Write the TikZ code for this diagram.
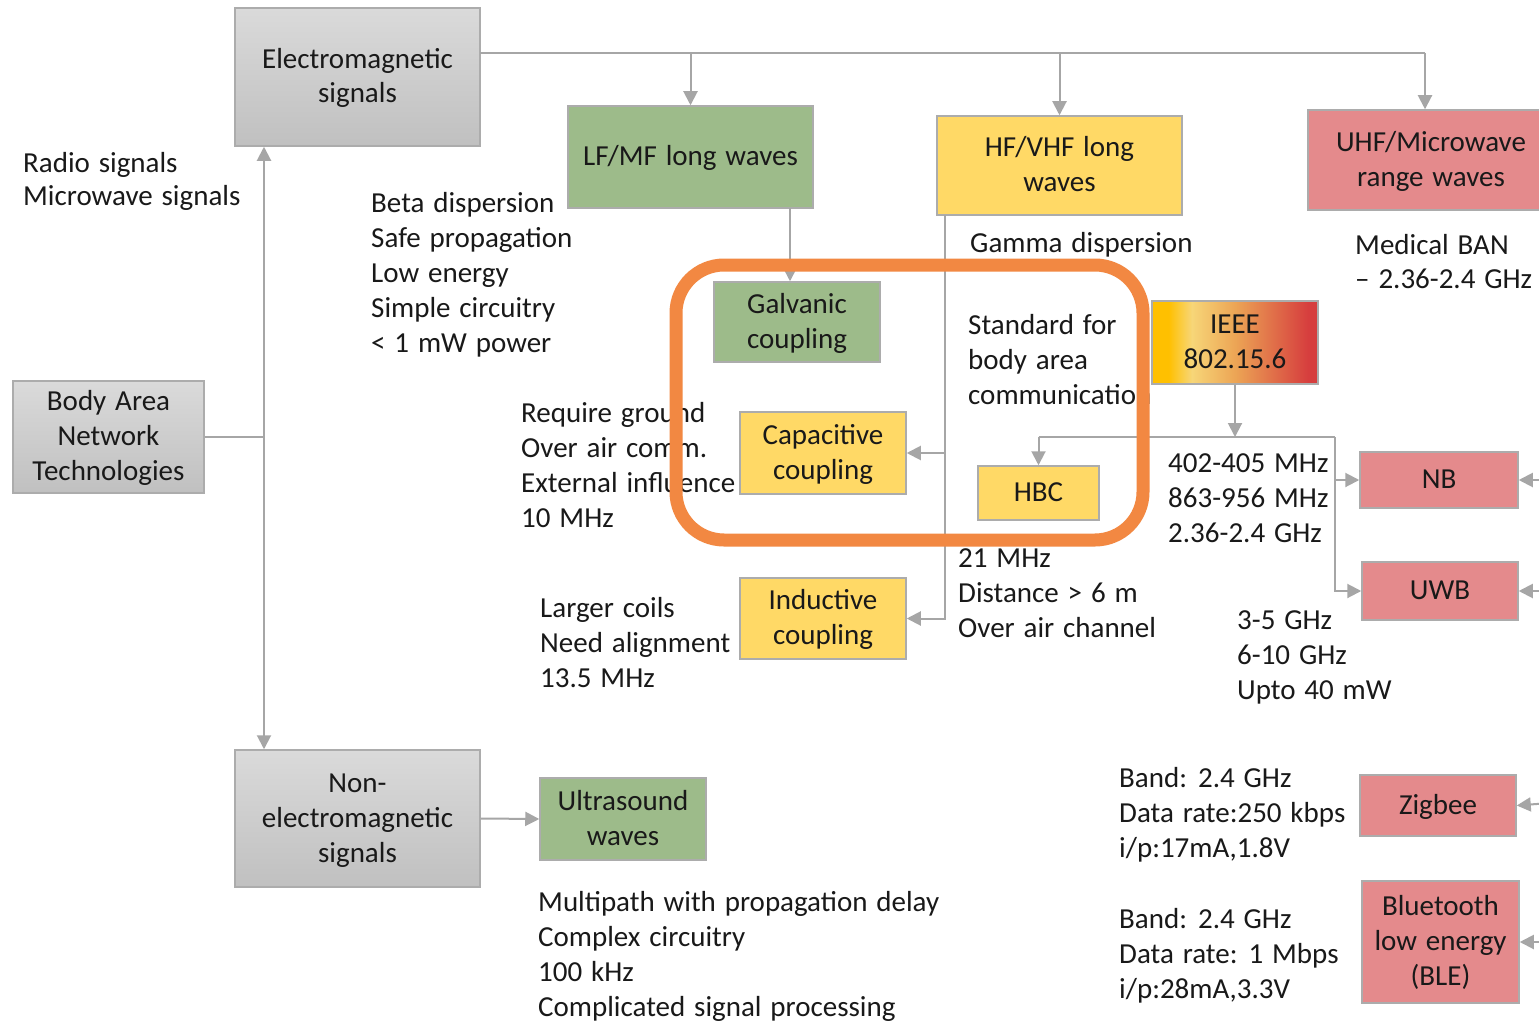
\documentclass[tikz,border=0pt]{standalone}
\usepackage{fontspec}
\setmainfont[WordSpace=1.35]{Carlito}
\usetikzlibrary{arrows.meta}

\definecolor{boxgrayT}{RGB}{218,218,218}
\definecolor{boxgrayB}{RGB}{192,192,192}
\definecolor{leaf}{RGB}{157,187,138}
\definecolor{sun}{RGB}{255,217,102}
\definecolor{rose}{RGB}{228,138,140}
\definecolor{wire}{RGB}{166,166,166}
\definecolor{frame}{RGB}{172,172,172}
\definecolor{ring}{RGB}{242,136,66}
\definecolor{ink}{RGB}{25,25,25}
\definecolor{ieeeA}{RGB}{255,192,0}
\definecolor{ieeeB}{RGB}{247,214,120}
\definecolor{ieeeC}{RGB}{236,165,85}
\definecolor{ieeeD}{RGB}{214,62,62}
\pgfdeclarehorizontalshading{ieeeshade}{100bp}{color(0bp)=(ieeeA); color(25bp)=(ieeeA); color(30bp)=(ieeeA); color(37bp)=(ieeeB); color(50bp)=(ieeeC); color(72bp)=(ieeeD); color(100bp)=(ieeeD)}

\newcommand\bodysize{\fontsize{29}{35}\selectfont}
% top and bottom struts for box labels: first line reaches 26.5pt up, last line 9.5pt down
\newcommand\bt{\rule{0pt}{26.5pt}}
\newcommand\bb{\rule[-9.5pt]{0pt}{9.5pt}}

\tikzset{
  dims/.style 2 args={minimum width=#1, minimum height=#2},
  blk/.style={draw=frame, line width=1.5pt, align=center, inner sep=0pt, font=\bodysize, text=ink},
  graybox/.style={blk, top color=boxgrayT, bottom color=boxgrayB},
  greenbox/.style={blk, fill=leaf},
  yellowbox/.style={blk, fill=sun},
  redbox/.style={blk, fill=rose},
  note/.style={anchor=north west, inner sep=0pt, align=left, font=\bodysize, text=ink},
  link/.style={draw=wire, line width=2pt},
  feed/.style={link, -{Triangle[length=14pt,width=14pt]}},
}

\begin{document}
\begin{tikzpicture}[x=1pt,y=-1pt]
\useasboundingbox (0,0) rectangle (1539,1022);
\clip (0,0) rectangle (1539,1022);
\fill[white] (0,0) rectangle (1539,1022);

% ---------- boxes ----------
\node[graybox, dims={245}{138}] (em) at (357.5,77) {\bt Electromagnetic\\signals\bb};
\node[graybox, dims={191}{112}] (bant) at (108.5,437) {\bt Body Area\\Network\\Technologies\bb};
\node[graybox, dims={245}{137}] (nonem) at (357.5,818.5) {\bt Non-\\electromagnetic\\signals\bb};

\node[greenbox, dims={245}{102}] (lf) at (690.5,157) {\bt LF/MF long waves\bb};
\node[yellowbox, dims={245}{99}] (hf) at (1059.5,165.5) {\bt HF/VHF long\\waves\bb};
\node[redbox, dims={246}{100}] (uhf) at (1431,160) {\bt UHF/Microwave\\range waves\bb};

\node[greenbox, dims={166}{80}] (gal) at (797,322) {\bt Galvanic\\coupling\bb};
\node[yellowbox, dims={166}{82}] (cap) at (823,453) {\bt Capacitive\\coupling\bb};
\node[yellowbox, dims={166}{81}] (ind) at (823,618.5) {\bt Inductive\\coupling\bb};
\node[yellowbox, dims={121}{54}] (hbc) at (1038.5,493) {\bt HBC\bb};
\node[blk, shade, shading=ieeeshade, dims={166}{83}] (ieee) at (1235,342.5) {\bt IEEE\\802.15.6\bb};

\node[redbox, dims={158}{56}] (nb) at (1439,480) {\bt NB\bb};
\node[redbox, dims={156}{58}] (uwb) at (1440,591) {\bt UWB\bb};
\node[redbox, dims={156}{61}] (zig) at (1438,805.5) {\bt Zigbee\bb};
\node[redbox, dims={157}{122}] (ble) at (1440.5,942) {\bt Bluetooth\\low energy\\(BLE)\bb};

\node[greenbox, dims={166}{82}] (us) at (623,819) {\bt Ultrasound\\waves\bb};

% ---------- connectors ----------
\coordinate (emout) at (480,53);
\coordinate (uhfin) at (1425,53);
\draw[link] (emout) -- (uhfin);
\draw[feed] (emout -| lf.north) -- (lf.north);
\draw[feed] (emout -| hf.north) -- (hf.north);
\draw[feed] (uhfin) -- (uhfin |- uhf.north);

\coordinate (trunk) at (264,437);
\draw[link] (bant.east) -- (trunk);
\draw[feed] (trunk) -- (trunk |- em.south);
\draw[feed] (trunk) -- (trunk |- nonem.north);
\draw[feed] (nonem.east) -- (us.west);

\coordinate (lfdrop) at (790,208);
\draw[feed] (lfdrop) -- (lfdrop |- gal.north);

\coordinate (hfdrop) at (945,215);
\draw[feed] (hfdrop) |- (cap.east);
\draw[feed] (hfdrop) |- (ind.east);

\coordinate (busL) at (1038.5,437);
\coordinate (busR) at (1335,437);
\draw[feed] (ieee.south) -- (ieee.south |- busR);
\draw[link] (busL) -- (busR);
\draw[feed] (busL) -- (hbc.north);
\draw[feed] (busR) |- (uwb.west);
\draw[feed] (busR |- nb.west) -- (nb.west);

\coordinate (nbfeed) at (1550,480);
\coordinate (uwbfeed) at (1550,591);
\coordinate (zigfeed) at (1550,803);
\coordinate (blefeed) at (1550,942);
\draw[feed] (nbfeed) -- (nb.east);
\draw[feed] (uwbfeed) -- (uwb.east);
\draw[feed] (zigfeed) -- (zig.east);
\draw[feed] (blefeed) -- (ble.east);

% ---------- annotations ----------
\node[note] (radio) at (23,147.5) {\strut Radio signals\\[-2pt]Microwave signals};
\node[note] (beta) at (371,187.5) {\strut Beta dispersion\\Safe propagation\\Low energy\\Simple circuitry\\< 1 mW power};
\node[note] (gamma) at (970,227.5) {\strut Gamma dispersion};
\node[note] (mban) at (1355,229.5) {\strut Medical BAN\\[-1pt]– 2.36-2.4 GHz};
\node[note] (std) at (968,309.5) {\strut Standard for\\body area\\communication};
\node[note] (req) at (521,397.5) {\strut Require ground\\Over air comm.\\External influence\\10 MHz};
\node[note] (coil) at (540,592.5) {\strut Larger coils\\Need alignment\\13.5 MHz};
\node[note] (hbcn) at (958,542.5) {\strut 21 MHz\\Distance > 6 m\\Over air channel};
\node[note] (nbn) at (1168,447.5) {\strut 402-405 MHz\\863-956 MHz\\2.36-2.4 GHz};
\node[note] (uwbn) at (1237,604.5) {\strut 3-5 GHz\\6-10 GHz\\Upto 40 mW};
\node[note] (zign) at (1119,762.5) {\strut Band: 2.4 GHz\\Data rate:250 kbps\\i/p:17mA,1.8V};
\node[note] (blen) at (1119,903.5) {\strut Band: 2.4 GHz\\Data rate: 1 Mbps\\i/p:28mA,3.3V};
\node[note] (usn) at (538,886.5) {\strut Multipath with propagation delay\\Complex circuitry\\100 kHz\\Complicated signal processing};

% ---------- highlight frame ----------
\draw[ring, line width=13pt, rounded corners=48pt] (676,265) rectangle (1143,540);
\end{tikzpicture}
\end{document}
